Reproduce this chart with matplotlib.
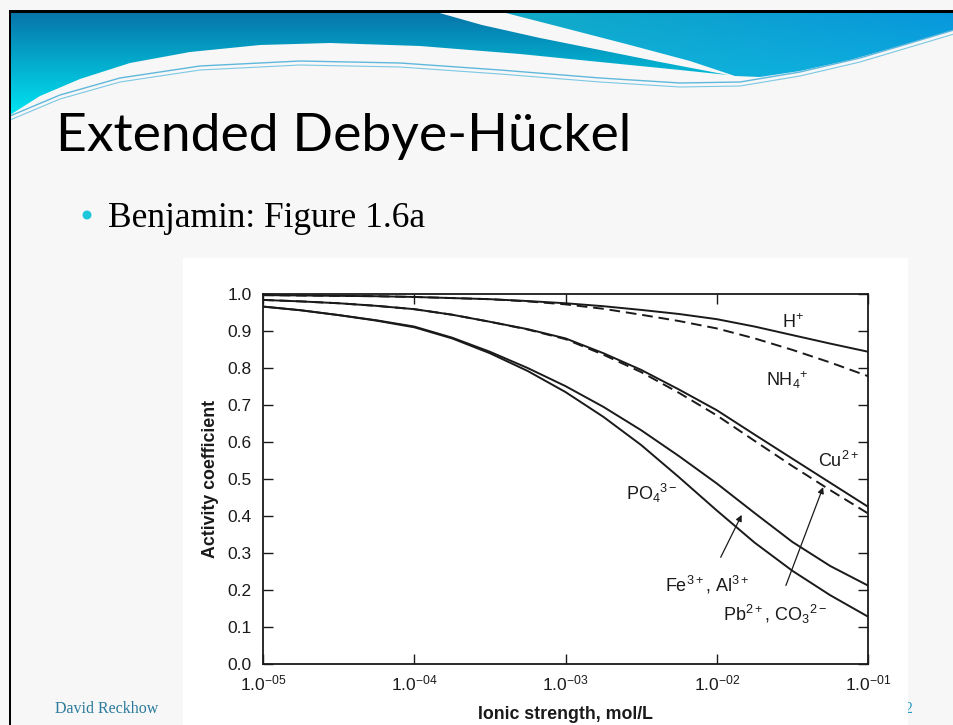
import numpy as np
import matplotlib
matplotlib.use("Agg")
import matplotlib.pyplot as plt
from matplotlib.patches import Polygon, Rectangle, Circle

plt.rcParams['mathtext.fontset'] = 'custom'
plt.rcParams['mathtext.rm'] = 'Liberation Sans'
plt.rcParams['mathtext.it'] = 'Liberation Sans:italic'
plt.rcParams['mathtext.bf'] = 'Liberation Sans:bold'
plt.rcParams['font.family'] = ['Liberation Sans', 'DejaVu Sans']

# ---------------- data ----------------
ionic_strength = [1.0e-5, 1.78e-5, 3.16e-5, 5.62e-5,
                  1.0e-4, 1.78e-4, 3.16e-4, 5.62e-4,
                  1.0e-3, 1.78e-3, 3.16e-3, 5.62e-3,
                  1.0e-2, 1.78e-2, 3.16e-2, 5.62e-2, 1.0e-1]
gamma_H = [0.997, 0.996, 0.995, 0.994, 0.992, 0.989, 0.986, 0.981, 0.975,
           0.967, 0.957, 0.946, 0.932, 0.912, 0.889, 0.866, 0.844]
gamma_NH4 = [0.997, 0.996, 0.995, 0.994, 0.992, 0.989, 0.986, 0.980, 0.972,
             0.960, 0.944, 0.927, 0.907, 0.880, 0.849, 0.815, 0.778]
gamma_Cu = [0.984, 0.980, 0.975, 0.968, 0.959, 0.944, 0.925, 0.905, 0.880,
            0.840, 0.795, 0.742, 0.686, 0.620, 0.555, 0.490, 0.425]
gamma_Pb = [0.984, 0.980, 0.975, 0.968, 0.959, 0.944, 0.925, 0.904, 0.878,
            0.836, 0.789, 0.733, 0.672, 0.603, 0.535, 0.470, 0.407]
gamma_Fe = [0.966, 0.956, 0.943, 0.929, 0.912, 0.882, 0.844, 0.800, 0.751,
            0.695, 0.632, 0.562, 0.488, 0.408, 0.330, 0.265, 0.212]
gamma_PO4 = [0.966, 0.956, 0.943, 0.928, 0.910, 0.880, 0.840, 0.792, 0.735,
             0.668, 0.592, 0.505, 0.415, 0.328, 0.252, 0.186, 0.128]

x_ticks = [1e-5, 1e-4, 1e-3, 1e-2, 1e-1]
x_tick_labels = ["1.0$^{-05}$", "1.0$^{-04}$", "1.0$^{-03}$", "1.0$^{-02}$", "1.0$^{-01}$"]
y_ticks = [0.0, 0.1, 0.2, 0.3, 0.4, 0.5, 0.6, 0.7, 0.8, 0.9, 1.0]
y_tick_labels = ["0.0", "0.1", "0.2", "0.3", "0.4", "0.5", "0.6", "0.7", "0.8", "0.9", "1.0"]

# ---------------- figure / slide background ----------------
W, H = 954, 725
fig = plt.figure(figsize=(W / 100, H / 100), dpi=100)
fig.patch.set_facecolor('#f7f7f7')
bg = fig.add_axes([0, 0, 1, 1], zorder=0)
bg.axis('off')
bg.set_facecolor('#f7f7f7')

# header gradient image
ny, nx = 130, W
yy, xx = np.mgrid[0:ny, 0:nx]
t = np.clip((yy - 12) / 100.0, 0, 1)
top_c = np.array([0x07, 0x74, 0xa8]) / 255.0
bot_c = np.array([0x00, 0xe2, 0xf0]) / 255.0
left_img = top_c[None, None, :] * (1 - t[..., None]) + bot_c[None, None, :] * t[..., None]
u = np.clip((xx - 500) / 454.0, 0, 1)
t2 = np.clip((yy - 12) / 60.0, 0, 1)
r_top = np.array([0x12, 0xaa, 0xc6]) / 255.0
r_right = np.array([0x08, 0x96, 0xdc]) / 255.0
r_low = np.array([0x10, 0xc0, 0xe4]) / 255.0
right_img = (r_top[None, None, :] * (1 - u[..., None]) + r_right[None, None, :] * u[..., None])
right_img = right_img * (1 - 0.5 * t2[..., None]) + r_low[None, None, :] * 0.5 * t2[..., None]

left_poly = [(10, 12), (436, 12), (482, 25), (540, 38), (600, 50), (660, 62), (728, 75),
             (680, 70), (600, 62), (520, 54), (420, 46), (330, 43), (260, 45), (190, 52),
             (130, 63), (80, 79), (40, 96), (10, 115)]
right_poly = [(502, 12), (954, 12), (954, 30), (900, 46), (850, 60), (800, 71), (760, 77),
              (735, 76), (690, 61), (630, 45), (572, 30)]
for poly, img in ((left_poly, left_img), (right_poly, right_img)):
    p = Polygon(poly, closed=True, facecolor='none', edgecolor='none')
    bg.add_patch(p)
    im = bg.imshow(img, extent=(0, nx, ny, 0), interpolation='bilinear', zorder=1)
    im.set_clip_path(p)

# thin ribbon lines
rib_x = [10, 60, 120, 200, 300, 400, 500, 600, 680, 740, 800, 860, 954]
rib_y = [116, 95, 78, 66, 61, 63, 70, 78, 83, 82, 72, 58, 30]
bg.plot(rib_x, rib_y, color='#5fb8dc', lw=1.0, zorder=2)
bg.plot(rib_x, [v + 4 for v in rib_y], color='#7cc8e4', lw=0.8, zorder=2)
bg.set_xlim(0, W)
bg.set_ylim(H, 0)

# black frame lines
bg.add_patch(Rectangle((9, 10), W - 9, 3, facecolor='black', edgecolor='none', zorder=3))
bg.add_patch(Rectangle((9, 10), 2.5, H - 10, facecolor='black', edgecolor='none', zorder=3))

# title and bullet
bg.text(56, 151, "Extended Debye-Hückel", fontsize=38.5, family='Lato', color='black',
        va='baseline', ha='left', zorder=4)
bg.add_patch(Circle((87, 215), 4.5, facecolor='#1ec6da', edgecolor='none', zorder=4))
bg.text(108, 227, "Benjamin: Figure 1.6a", fontsize=25.5, family='Liberation Serif',
        color='black', va='baseline', ha='left', zorder=4)

# footer
bg.text(55, 713, "David Reckhow", fontsize=11.5, family='Liberation Serif', color='#2a7a9c',
        va='baseline', ha='left', zorder=4)
bg.text(897, 713, "32", fontsize=11.5, family='Liberation Serif', color='#2a9cc8',
        va='baseline', ha='left', zorder=4)

# white figure-image area
bg.add_patch(Rectangle((183, 258), 725, H - 258, facecolor='white', edgecolor='none', zorder=5))

# ---------------- the chart ----------------
ax = fig.add_axes([263 / W, 1 - 664 / H, (868 - 263) / W, (664 - 294) / H], zorder=2)
ax.set_facecolor('white')
lc = '#1a1a1a'
lw = 1.4
dash = (0, (5.5, 3))
ax.plot(ionic_strength, gamma_H, color=lc, lw=lw)
ax.plot(ionic_strength, gamma_NH4, color=lc, lw=lw, linestyle=dash)
ax.plot(ionic_strength, gamma_Cu, color=lc, lw=lw)
ax.plot(ionic_strength, gamma_Pb, color=lc, lw=lw, linestyle=dash)
ax.plot(ionic_strength, gamma_Fe, color=lc, lw=lw)
ax.plot(ionic_strength, gamma_PO4, color=lc, lw=lw)

ax.set_xscale('log')
ax.set_xlim(1e-5, 1e-1)
ax.set_ylim(0, 1.0)
ax.set_xticks(x_ticks, x_tick_labels)
ax.xaxis.set_minor_locator(matplotlib.ticker.NullLocator())
ax.set_yticks(y_ticks, y_tick_labels)
ax.tick_params(axis='both', which='major', direction='in', length=7, width=1.0,
               labelsize=12.5, colors=lc, top=True, right=True)
ax.tick_params(axis='x', pad=7)
ax.tick_params(axis='y', pad=8)
for s in ax.spines.values():
    s.set_linewidth(1.3)
    s.set_color(lc)

ax.set_ylabel("Activity coefficient", fontsize=12.8, fontweight='bold', color=lc, labelpad=6)
ax.set_xlabel("Ionic strength, mol/L", fontsize=12.8, fontweight='bold', color=lc, labelpad=9)

lab_kw = dict(fontsize=13, color=lc, ha='center', va='center')
ax.text(0.0319, 0.922, "H$^{+}$", **lab_kw)
ax.text(0.0291, 0.768, "NH$_{4}$$^{+}$", **lab_kw)
ax.text(0.0634, 0.549, "Cu$^{2+}$", **lab_kw)
ax.text(0.00373, 0.462, "PO$_{4}$$^{3-}$", **lab_kw)
ax.annotate("Fe$^{3+}$, Al$^{3+}$", xy=(0.01462, 0.403), xytext=(0.00863, 0.214),
            arrowprops=dict(arrowstyle='-|>', color=lc, lw=0.9, shrinkA=11, shrinkB=0,
                            mutation_scale=9), **lab_kw)
ax.annotate("Pb$^{2+}$, CO$_{3}$$^{2-}$", xy=(0.0505, 0.478), xytext=(0.0243, 0.135),
            arrowprops=dict(arrowstyle='-|>', color=lc, lw=0.9, shrinkA=11, shrinkB=0,
                            mutation_scale=9), **lab_kw)

fig.savefig("out.png", dpi=100, facecolor=fig.get_facecolor())
